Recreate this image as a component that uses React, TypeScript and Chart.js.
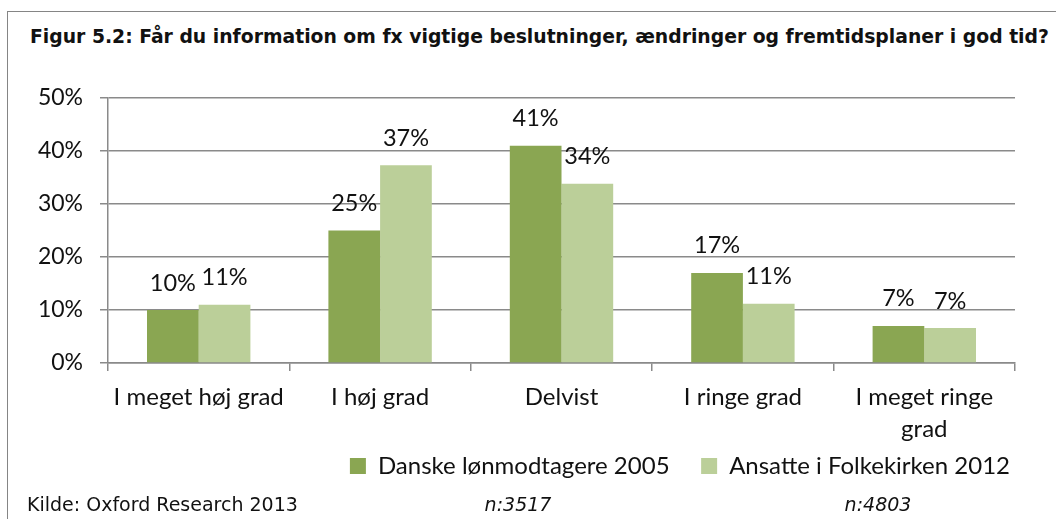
import React, { useEffect, useRef } from "react";
import { Chart, registerables } from "chart.js";

Chart.register(...registerables);

const titleText =
  "Figur 5.2: Får du information om fx vigtige beslutninger, ændringer og fremtidsplaner i god tid?";
const sourceText = "Kilde: Oxford Research 2013";
const nNotes = ["n:3517", "n:4803"];

const categories = [
  ["I meget høj grad"],
  ["I høj grad"],
  ["Delvist"],
  ["I ringe grad"],
  ["I meget ringe", "grad"],
];
const seriesNames = ["Danske lønmodtagere 2005", "Ansatte i Folkekirken 2012"];
const danske2005 = [10, 25, 41, 17, 7];
const folkekirken2012 = [11, 37.3, 33.8, 11.2, 6.6];
const yTickValues = [0, 10, 20, 30, 40, 50];

const FONT = "Lato, 'Open Sans', sans-serif";
const GRID = "#8a8a8a";
const DARK = "#8aa652";
const LIGHT = "#bbcf99";

const valueLabels = {
  id: "valueLabels",
  afterDatasetsDraw(chart: any) {
    const ctx = chart.ctx;
    ctx.save();
    ctx.font = `23.5px ${FONT}`;
    ctx.fillStyle = "#111";
    ctx.textAlign = "center";
    ctx.textBaseline = "middle";
    chart.data.datasets.forEach((ds: any, i: number) => {
      const meta = chart.getDatasetMeta(i);
      meta.data.forEach((el: any, j: number) => {
        ctx.fillText(Math.round(ds.data[j]) + "%", el.x, el.y - 27);
      });
    });
    ctx.restore();
  },
};

export default function App() {
  const ref = useRef<HTMLCanvasElement | null>(null);

  useEffect(() => {
    if (!ref.current) return;
    const chart = new Chart(ref.current, {
      type: "bar",
      data: {
        labels: categories,
        datasets: [
          {
            label: seriesNames[0],
            data: danske2005,
            backgroundColor: DARK,
            borderWidth: 0,
            categoryPercentage: 0.57,
            barPercentage: 1,
          },
          {
            label: seriesNames[1],
            data: folkekirken2012,
            backgroundColor: LIGHT,
            borderWidth: 0,
            categoryPercentage: 0.57,
            barPercentage: 1,
          },
        ],
      },
      options: {
        animation: false,
        responsive: false,
        maintainAspectRatio: false,
        devicePixelRatio: 1,
        layout: { padding: { left: 0, right: 39, top: 98, bottom: 31 } },
        plugins: {
          legend: {
            position: "bottom",
            align: "end",
            labels: {
              boxWidth: 16,
              boxHeight: 16,
              padding: 7,
              color: "#111",
              font: { family: FONT, size: 24 },
              generateLabels: (chart: any) => {
                const items =
                  Chart.defaults.plugins.legend.labels.generateLabels(chart);
                return items.map((it: any, i: number) =>
                  i < items.length - 1 ? { ...it, text: it.text + "    " } : it
                );
              },
            },
          },
          tooltip: { enabled: false },
          title: { display: false },
        },
        scales: {
          x: {
            afterFit: (scale: any) => {
              scale.height = 84;
            },
            grid: {
              display: true,
              drawOnChartArea: false,
              drawTicks: true,
              tickLength: 8,
              color: GRID,
              lineWidth: 1.5,
              offset: true,
            },
            border: { display: true, color: GRID, width: 1.5 },
            ticks: {
              color: "#111",
              padding: 10,
              maxRotation: 0,
              autoSkip: false,
              font: { family: FONT, size: 24, lineHeight: 1.33 },
            },
          },
          y: {
            min: 0,
            max: 50,
            afterFit: (scale: any) => {
              scale.width = 108;
            },
            afterBuildTicks: (scale: any) => {
              scale.ticks = yTickValues.map((v) => ({ value: v }));
            },
            grid: {
              color: GRID,
              lineWidth: 1.5,
              drawTicks: true,
              tickLength: 8,
            },
            border: { display: true, color: GRID, width: 1.5 },
            ticks: {
              color: "#111",
              padding: 17,
              font: { family: FONT, size: 23 },
              callback: (v: any) => v + "%",
            },
          },
          yRightSpacer: {
            type: "linear",
            position: "right",
            display: true,
            afterFit: (scale: any) => {
              scale.width = 2;
            },
            grid: { display: false, drawTicks: false },
            border: { display: false },
            ticks: { display: false },
          },
        },
      },
      plugins: [valueLabels],
    });
    return () => chart.destroy();
  }, []);

  const txt: React.CSSProperties = {
    position: "absolute",
    whiteSpace: "nowrap",
    color: "#111",
    lineHeight: "1",
  };

  return (
    <div
      style={{
        position: "fixed",
        left: 0,
        top: 0,
        width: 1056,
        height: 519,
        overflow: "hidden",
        background: "#fff",
      }}
    >
      <div
        style={{
          position: "absolute",
          left: 7,
          top: 11,
          width: 1200,
          height: 700,
          border: "1px solid #858585",
        }}
      />
      <div
        style={{
          ...txt,
          left: 30,
          top: 28,
          fontFamily: "'DejaVu Sans', sans-serif",
          fontWeight: "bold",
          fontSize: 18.8,
        }}
      >
        {titleText}
      </div>
      <canvas
        ref={ref}
        width={1056}
        height={519}
        style={{ position: "absolute", left: 0, top: 0, width: 1056, height: 519 }}
      />
      <div
        style={{
          ...txt,
          left: 27,
          top: 495,
          fontFamily: "'DejaVu Sans', sans-serif",
          fontSize: 19,
        }}
      >
        {sourceText}
      </div>
      <div
        style={{
          ...txt,
          left: 518,
          top: 495,
          transform: "translateX(-50%)",
          fontFamily: "'DejaVu Sans', sans-serif",
          fontStyle: "italic",
          fontSize: 19,
        }}
      >
        {nNotes[0]}
      </div>
      <div
        style={{
          ...txt,
          left: 878,
          top: 495,
          transform: "translateX(-50%)",
          fontFamily: "'DejaVu Sans', sans-serif",
          fontStyle: "italic",
          fontSize: 19,
        }}
      >
        {nNotes[1]}
      </div>
    </div>
  );
}
